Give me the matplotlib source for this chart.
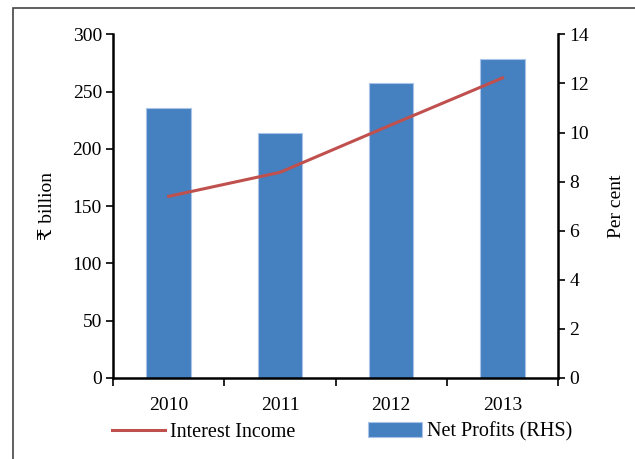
import matplotlib
matplotlib.use("Agg")
import matplotlib.pyplot as plt
from matplotlib.patches import Rectangle

# dados
anos = ["2010", "2011", "2012", "2013"]
receita_juros = [158.5, 179.5, 221, 262]      # ₹ billion (eixo esquerdo)
lucro_liquido = [11, 10, 12, 13]              # per cent (eixo direito)

plt.rcParams["font.family"] = ["Liberation Serif", "DejaVu Serif", "DejaVu Sans"]
plt.rcParams["font.size"] = 14

fig = plt.figure(figsize=(6.35, 4.59), dpi=100)
ax = fig.add_axes([0.178, 0.177, 0.701, 0.748])
ax2 = ax.twinx()

x = list(range(len(anos)))

# barras no eixo da direita
ax2.bar(x, lucro_liquido, width=0.4, color="#4580C0", edgecolor="#A9C4E8",
        linewidth=0.8, label="Net Profits (RHS)")
# linha no eixo da esquerda, por cima das barras
ax.plot(x, receita_juros, color="#C0504D", linewidth=2.2, label="Interest Income")
ax.set_zorder(ax2.get_zorder() + 1)
ax.patch.set_visible(False)

ax.set_xlim(-0.5, 3.5)
ax.set_ylim(0, 300)
ax.set_yticks(range(0, 301, 50))
ax2.set_ylim(0, 14)
ax2.set_yticks(range(0, 15, 2))

ax.set_xticks(x)
ax.set_xticklabels(anos)
ax.set_xticks([-0.5, 0.5, 1.5, 2.5, 3.5], minor=True)
ax.tick_params(axis="x", which="major", length=0, pad=14)
ax.tick_params(axis="x", which="minor", length=6, width=1.2, direction="out")
ax.tick_params(axis="y", length=5, width=1.2, direction="out", pad=3)
ax2.tick_params(axis="y", length=5, width=1.2, direction="out", pad=3)

for a in (ax, ax2):
    a.spines["top"].set_visible(False)
    for s in ("left", "right", "bottom"):
        a.spines[s].set_linewidth(1.8)
ax.spines["right"].set_visible(False)
ax2.spines["left"].set_visible(False)
ax2.spines["bottom"].set_visible(False)

ax.set_ylabel("₹ billion", labelpad=12)
ax2.set_ylabel("Per cent", labelpad=14)

# legenda abaixo do gráfico
h1, l1 = ax.get_legend_handles_labels()
h2, l2 = ax2.get_legend_handles_labels()
fig.legend(h1 + h2, l1 + l2, loc="center left", bbox_to_anchor=(112 / 635, 27 / 459),
           ncol=2, frameon=False, fontsize=14.5, handlelength=2.65,
           handleheight=0.75, columnspacing=3.6, handletextpad=0.25,
           borderpad=0, borderaxespad=0)

# moldura externa
fig.add_artist(Rectangle((13 / 635, -0.1), 1.2, 1 - 7.5 / 459 + 0.1,
                         transform=fig.transFigure, fill=False,
                         edgecolor="#444444", linewidth=1.2))

fig.savefig("out.png", dpi=100)
